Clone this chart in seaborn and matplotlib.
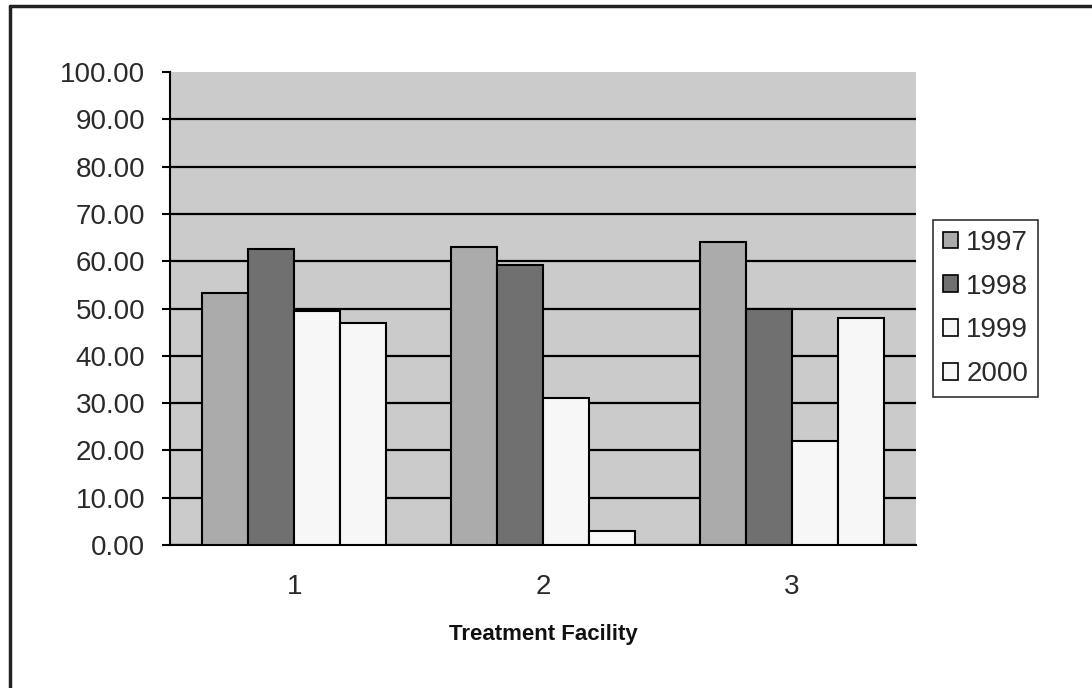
import pandas as pd
import matplotlib
matplotlib.use('Agg')
import matplotlib.pyplot as plt
import matplotlib.patches as mpatches
import seaborn as sns

# %% data
facilities = ['1', '2', '3']
years = ['1997', '1998', '1999', '2000']
vals_1997 = [53.2, 63.0, 64.0]
vals_1998 = [62.5, 59.3, 50.0]
vals_1999 = [49.5, 31.0, 22.0]
vals_2000 = [47.0, 3.0, 48.0]
colors = ['#ababab', '#707070', '#f7f7f7', '#f7f7f7']

rows = []
for year, vals in zip(years, [vals_1997, vals_1998, vals_1999, vals_2000]):
    for fac, v in zip(facilities, vals):
        rows.append({'facility': fac, 'year': year, 'value': v})
df = pd.DataFrame(rows)

# %% plot
sns.set_style('white')
plt.rcParams['font.family'] = ['Liberation Sans', 'DejaVu Sans']

fig = plt.figure(figsize=(10.92, 6.88), dpi=100)
ax = fig.add_axes([0.1557, 0.2078, 0.8388 - 0.1557, 0.8953 - 0.2078])
ax.set_facecolor('#cbcbcb')

sns.barplot(data=df, x='facility', y='value', hue='year', order=facilities,
            hue_order=years, palette=colors, width=0.74, edgecolor='black',
            linewidth=1.5, saturation=1, ax=ax, zorder=3)

ax.set_ylim(0, 100)
ax.set_xlim(-0.5, 2.5)
ax.set_yticks(range(0, 101, 10))
ax.set_yticklabels(['%.2f' % t for t in range(0, 101, 10)], fontsize=20,
                   color='#2a2a2a')
ax.set_xticks([0, 1, 2])
ax.set_xticklabels(facilities, fontsize=20, color='#2a2a2a')
ax.set_xticks([-0.5, 0.5, 1.5, 2.5], minor=True)
ax.tick_params(axis='x', which='major', length=0, pad=21)
ax.tick_params(axis='x', which='minor', length=7, width=1.5, color='black',
               direction='out')
ax.tick_params(axis='y', length=6, width=1.5, color='black', direction='out',
               pad=12, left=True)

ax.yaxis.grid(True, color='black', linewidth=1.6, zorder=0)
ax.set_axisbelow(True)
ax.get_ygridlines()[-1].set_visible(False)

for s in ['top', 'right']:
    ax.spines[s].set_visible(False)
for s in ['left', 'bottom']:
    ax.spines[s].set_color('black')
    ax.spines[s].set_linewidth(1.5)

ax.set_xlabel('Treatment Facility', fontsize=16, fontweight='bold',
              labelpad=17, color='#111111')
ax.set_ylabel('')

ax.get_legend().remove()
handles = [mpatches.Patch(facecolor=c, edgecolor='black', linewidth=1.2)
           for c in colors]
leg = fig.legend(handles, years, loc='upper left',
                 bbox_to_anchor=(933 / 1092, 1 - 220 / 688), fontsize=20,
                 frameon=True, fancybox=False, handlelength=0.55,
                 handleheight=0.55, handletextpad=0.3, labelspacing=0.64,
                 borderpad=0.35, borderaxespad=0)
leg.get_frame().set_edgecolor('black')
leg.get_frame().set_linewidth(1.2)
for t in leg.get_texts():
    t.set_color('#2a2a2a')

# outer chart frame (left and top edges visible in the scan)
fig.add_artist(plt.Line2D([0.0095, 0.0095], [0, 0.992], color='#222222',
                          linewidth=2.5, transform=fig.transFigure))
fig.add_artist(plt.Line2D([0.0095, 1.0], [0.992, 0.992], color='#222222',
                          linewidth=2.5, transform=fig.transFigure))

fig.savefig('out.png', dpi=100)
